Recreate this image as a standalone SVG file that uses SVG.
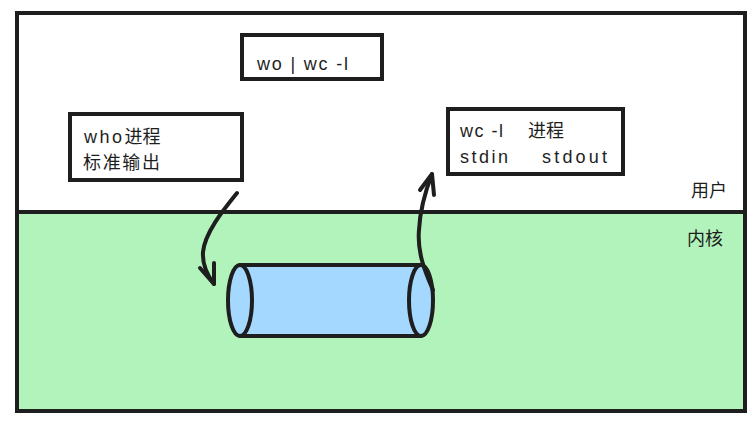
<svg xmlns="http://www.w3.org/2000/svg" width="756" height="423" viewBox="0 0 756 423">
<style>
.s{fill:none;stroke:#1e1e1e;stroke-width:4;stroke-linecap:round;stroke-linejoin:round}
.b{fill:#ffffff;stroke:#1e1e1e;stroke-width:4}
.t{font-family:"Liberation Sans","Noto Sans CJK SC",sans-serif;font-size:18px;fill:#1e1e1e}
</style>
<rect x="0" y="0" width="756" height="423" fill="#ffffff"/>
<g id="user-space">
<rect x="17" y="13" width="728" height="199" fill="#ffffff" stroke="#1e1e1e" stroke-width="4"/>
<text class="t" x="691" y="197">用户</text>
</g>
<g id="kernel-space">
<rect x="17" y="212" width="728" height="199" fill="#b2f2bb" stroke="#1e1e1e" stroke-width="4"/>
<text class="t" x="687" y="245">内核</text>
</g>
<g id="cmd">
<rect class="b" x="242" y="35" width="140" height="44"/>
<text class="t" x="257" y="70" textLength="91" lengthAdjust="spacing">wo | wc -l</text>
</g>
<g id="who">
<rect class="b" x="70" y="114" width="172" height="66"/>
<text class="t" x="84" y="143"><tspan textLength="38" lengthAdjust="spacing">who</tspan>进程</text>
<text class="t" x="83" y="169" textLength="77" lengthAdjust="spacing">标准输出</text>
</g>
<g id="wc">
<rect class="b" x="448" y="109" width="175" height="65"/>
<text class="t" x="460" y="137" textLength="43" lengthAdjust="spacing">wc -l</text>
<text class="t" x="528" y="137">进程</text>
<text class="t" x="460" y="163" textLength="48" lengthAdjust="spacing">stdin</text>
<text class="t" x="542" y="163" textLength="65" lengthAdjust="spacing">stdout</text>
</g>
<g id="pipe">
<path d="M240 265 H421 V336 H240 Z" fill="#a5d8ff" stroke="none"/>
<line class="s" x1="240" y1="265" x2="421" y2="265"/>
<line class="s" x1="240" y1="336" x2="421" y2="336"/>
<ellipse cx="240" cy="300.5" rx="12" ry="35.5" fill="#a5d8ff" stroke="#1e1e1e" stroke-width="4"/>
<ellipse cx="421" cy="300.5" rx="12" ry="35.5" fill="#a5d8ff" stroke="#1e1e1e" stroke-width="4"/>
</g>
<g id="connectors">
<path class="s" d="M237 193 C225 208 205 232 203 252 C202 266 208 276 214 284"/>
<path class="s" d="M200 268 L214 284 L214 263"/>
<path class="s" d="M433 290 C425 272 417 252 419 230 C420 210 425 192 432 174"/>
<path class="s" d="M420 190 L432 174 L434 195"/>
</g>
</svg>
